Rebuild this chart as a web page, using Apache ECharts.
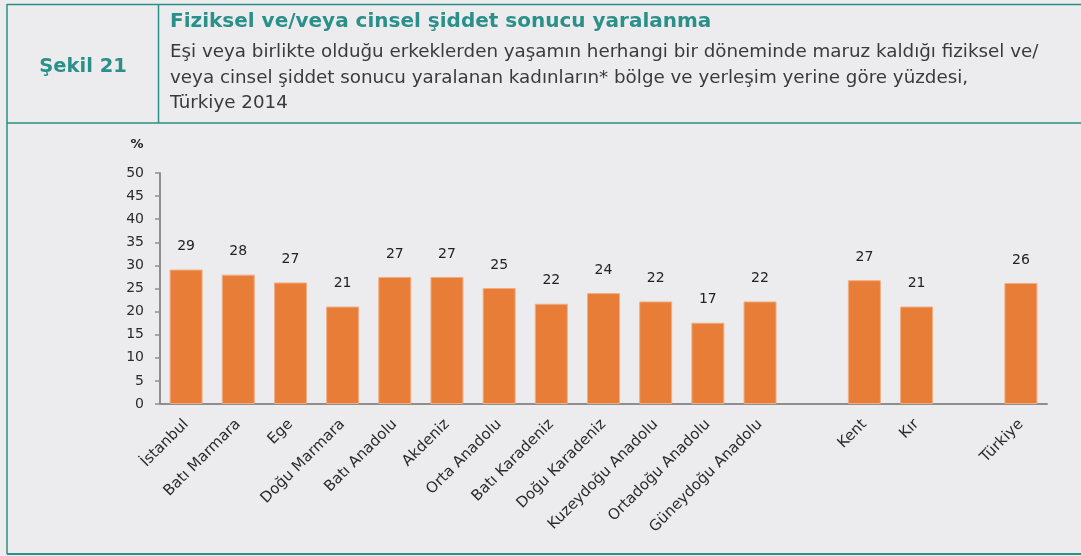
<!DOCTYPE html>
<html>
<head>
<meta charset="utf-8">
<script src="https://cdn.jsdelivr.net/npm/echarts@6/dist/echarts.min.js"></script>
<style>
html,body{margin:0;padding:0;background:#ececee;}
#chart{width:1081px;height:556px;}
</style>
</head>
<body>
<div id="chart"></div>
<script>
const categories = ['İstanbul','Batı Marmara','Ege','Doğu Marmara','Batı Anadolu','Akdeniz','Orta Anadolu','Batı Karadeniz','Doğu Karadeniz','Kuzeydoğu Anadolu','Ortadoğu Anadolu','Güneydoğu Anadolu','','Kent','Kır','','Türkiye'];
const values = [29.1,28.0,26.3,21.1,27.5,27.5,25.1,21.7,24.0,22.2,17.6,22.2,null,26.8,21.1,null,26.2];
const valueLabels = ['29','28','27','21','27','27','25','22','24','22','17','22','','27','21','','26'];
const yTicks = [0,5,10,15,20,25,30,35,40,45,50];
const figureNo = 'Şekil 21';
const titleText = 'Fiziksel ve/veya cinsel şiddet sonucu yaralanma';
const subtitleLines = [
  'Eşi veya birlikte olduğu erkeklerden yaşamın herhangi bir döneminde maruz kaldığı fiziksel ve/',
  'veya cinsel şiddet sonucu yaralanan kadınların* bölge ve yerleşim yerine göre yüzdesi,',
  'Türkiye 2014'
];

const teal = '#2a9089';
const font = 'DejaVu Sans';
const chart = echarts.init(document.getElementById('chart'));
chart.setOption({
  backgroundColor: '#ececee',
  animation: false,
  textStyle: {fontFamily: font},
  grid: {left: 160, right: 34, top: 173, bottom: 152},
  xAxis: {
    type: 'category',
    data: categories,
    axisLine: {lineStyle: {color: '#8e8e8e', width: 2}},
    axisTick: {show: false},
    axisLabel: {rotate: 45, interval: 0, color: '#2b2b2b', fontSize: 15, fontFamily: font, margin: 18}
  },
  yAxis: {
    type: 'value',
    min: yTicks[0], max: yTicks[yTicks.length-1], interval: 5,
    splitLine: {show: false},
    axisLine: {show: true, lineStyle: {color: '#8e8e8e', width: 2}},
    axisTick: {show: true, length: 5, lineStyle: {color: '#8e8e8e', width: 1.5}},
    axisLabel: {color: '#2b2b2b', fontSize: 14, fontFamily: font, margin: 16}
  },
  series: [{
    type: 'bar',
    data: values,
    barWidth: 33,
    itemStyle: {color: '#e87d38', borderColor: '#f1ad84', borderWidth: 1},
    label: {
      show: true, position: 'top', distance: 16,
      color: '#222', fontSize: 14, fontFamily: font,
      formatter: p => valueLabels[p.dataIndex]
    }
  }],
  graphic: [
    {type: 'line', shape: {x1: 7, y1: 4.5, x2: 1081, y2: 4.5}, style: {stroke: teal, lineWidth: 1.5}},
    {type: 'line', shape: {x1: 7, y1: 123, x2: 1081, y2: 123}, style: {stroke: teal, lineWidth: 1.5}},
    {type: 'line', shape: {x1: 7, y1: 4, x2: 7, y2: 554}, style: {stroke: teal, lineWidth: 1.5}},
    {type: 'line', shape: {x1: 158.5, y1: 4, x2: 158.5, y2: 123}, style: {stroke: teal, lineWidth: 1.5}},
    {type: 'line', shape: {x1: 7, y1: 554, x2: 1081, y2: 554}, style: {stroke: teal, lineWidth: 2}},
    {type: 'text', x: 83, y: 67, style: {text: figureNo, fill: teal, font: 'bold 19.5px "' + font + '"', align: 'center', verticalAlign: 'middle'}},
    {type: 'text', x: 170, y: 22, style: {text: titleText, fill: teal, font: 'bold 20px "' + font + '"', align: 'left', verticalAlign: 'middle'}},
    {type: 'text', x: 170, y: 52, style: {text: subtitleLines[0], fill: '#3a3a3a', font: '18.3px "' + font + '"', align: 'left', verticalAlign: 'middle'}},
    {type: 'text', x: 170, y: 78, style: {text: subtitleLines[1], fill: '#3a3a3a', font: '18.3px "' + font + '"', align: 'left', verticalAlign: 'middle'}},
    {type: 'text', x: 170, y: 103, style: {text: subtitleLines[2], fill: '#3a3a3a', font: '18.3px "' + font + '"', align: 'left', verticalAlign: 'middle'}},
    {type: 'text', x: 137, y: 145, style: {text: '%', fill: '#222', font: 'bold 13px "' + font + '"', align: 'center', verticalAlign: 'middle'}}
  ]
});
</script>
</body>
</html>
